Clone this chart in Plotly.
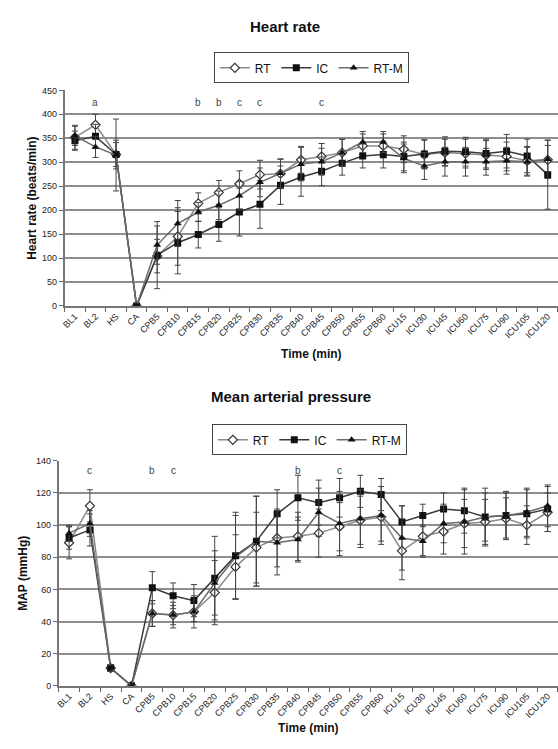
import plotly.graph_objects as go

categories = ["BL1", "BL2", "HS", "CA", "CPB5", "CPB10", "CPB15", "CPB20", "CPB25", "CPB30",
              "CPB35", "CPB40", "CPB45", "CPB50", "CPB55", "CPB60", "ICU15", "ICU30", "ICU45",
              "ICU60", "ICU75", "ICU90", "ICU105", "ICU120"]

# Heart rate (beats/min)
hr_rt = [352, 378, 316, 0, 104, 145, 214, 237, 255, 274, 276, 305, 312, 320, 334, 334, 327, 316, 320, 318, 315, 312, 303, 305]
hr_ic = [345, 354, 316, 0, 106, 132, 149, 170, 196, 212, 252, 269, 281, 298, 313, 316, 312, 317, 323, 322, 318, 323, 313, 274]
hr_rtm = [355, 332, 315, 0, 127, 172, 196, 210, 230, 258, 277, 296, 301, 320, 342, 342, 308, 292, 301, 301, 301, 303, 301, 306]
hr_rt_err = [25, 22, 25, 0, 35, 60, 22, 25, 27, 30, 30, 28, 27, 28, 25, 25, 28, 30, 28, 30, 30, 30, 30, 30]
hr_ic_err = [20, 25, 30, 0, 70, 65, 28, 35, 50, 50, 40, 40, 30, 25, 25, 28, 30, 30, 30, 30, 30, 35, 35, 72]
hr_rtm_err = [20, 22, 75, 0, 40, 48, 20, 30, 30, 30, 30, 35, 28, 28, 22, 22, 30, 28, 30, 30, 28, 28, 30, 40]
hr_letters = {"BL2": "a", "CPB15": "b", "CPB20": "b", "CPB25": "c", "CPB30": "c", "CPB45": "c"}

# Mean arterial pressure (mmHg)
map_rt = [89, 112, 11, 0, 45, 44, 46, 58, 74, 86, 92, 93, 95, 99, 103, 105, 84, 93, 96, 101, 102, 104, 100, 108]
map_ic = [92, 97, 11, 0, 61, 56, 53, 67, 81, 90, 107, 117, 114, 117, 121, 119, 102, 106, 110, 109, 105, 106, 107, 110]
map_rtm = [95, 101, 11, 0, 45, 44, 46, 64, 80, 90, 89, 91, 108, 101, 104, 106, 92, 90, 101, 102, 105, 106, 108, 112]
map_rt_err = [10, 10, 2, 0, 8, 6, 6, 20, 20, 22, 18, 15, 15, 15, 15, 15, 18, 12, 14, 15, 14, 13, 12, 12]
map_ic_err = [7, 10, 2, 0, 10, 8, 10, 26, 27, 28, 15, 14, 14, 12, 10, 10, 10, 7, 10, 14, 15, 15, 15, 14]
map_rtm_err = [5, 8, 2, 0, 8, 8, 10, 20, 26, 28, 20, 14, 15, 20, 18, 18, 20, 10, 12, 20, 18, 14, 15, 13]
map_letters = {"BL2": "c", "CPB5": "b", "CPB10": "c", "CPB40": "b", "CPB50": "c"}

W, H = 558, 749
FONT = "Liberation Sans, Arial, sans-serif"

def py(px):
    return 1 - px / H

series_style = [
    ("RT", dict(symbol="diamond", color="white", size=7, line=dict(color="#333", width=1.2)), "#8a8a8a"),
    ("IC", dict(symbol="square", color="#111", size=7, line=dict(color="#111", width=0)), "#3a3a3a"),
    ("RT-M", dict(symbol="triangle-up", color="#111", size=7, line=dict(color="#111", width=0)), "#6a6a6a"),
]

fig = go.Figure()

def add_panel(vals, errs, xa, ya, legend):
    for (name, marker, lc), v, e in zip(series_style, vals, errs):
        fig.add_trace(go.Scatter(
            x=categories, y=v, name=name, mode="lines+markers",
            xaxis=xa, yaxis=ya, legend=legend,
            line=dict(color=lc, width=1.5), marker=marker,
            error_y=dict(type="data", array=e, visible=True, color="#444", thickness=1, width=3),
        ))

add_panel([hr_rt, hr_ic, hr_rtm], [hr_rt_err, hr_ic_err, hr_rtm_err], "x", "y", "legend")
add_panel([map_rt, map_ic, map_rtm], [map_rt_err, map_ic_err, map_rtm_err], "x2", "y2", "legend2")

xcommon = dict(type="category", categoryorder="array", categoryarray=categories,
               range=[-0.5, len(categories) - 0.5],
               tickson="boundaries", ticks="outside", ticklen=4, tickcolor="#666",
               tickangle=-45, tickfont=dict(family=FONT, size=9, color="#222"),
               showline=True, linecolor="#777", linewidth=1.5, showgrid=False,
               zeroline=False, fixedrange=True)
ycommon = dict(showgrid=True, gridcolor="#8e8e8e", gridwidth=2, ticks="outside", ticklen=4,
               tickcolor="#666", showline=True, linecolor="#777", linewidth=1.5,
               tickfont=dict(family=FONT, size=9, color="#222"), zeroline=False, fixedrange=True)

legend_common = dict(orientation="h", xanchor="center", yanchor="top",
                     bordercolor="#444", borderwidth=1, font=dict(family=FONT, size=12, color="#111"),
                     itemwidth=30, tracegroupgap=0, bgcolor="white")

fig.update_layout(
    width=W, height=H, margin=dict(l=0, r=0, t=0, b=0),
    paper_bgcolor="white", plot_bgcolor="white",
    showlegend=True,
    xaxis=dict(xcommon, domain=[62 / W, 1], anchor="y",
               title=dict(text="<b>Time (min)</b>", font=dict(family=FONT, size=12, color="#111"), standoff=10)),
    yaxis=dict(ycommon, domain=[py(305), py(86.5)], range=[0, 450], dtick=50, anchor="x",
               title=dict(text="<b>Heart rate (beats/min)</b>", font=dict(family=FONT, size=12, color="#111"), standoff=3)),
    xaxis2=dict(xcommon, domain=[56 / W, 1], anchor="y2",
                title=dict(text="<b>Time (min)</b>", font=dict(family=FONT, size=12, color="#111"), standoff=5)),
    yaxis2=dict(ycommon, domain=[py(690), py(462)], range=[0, 140], dtick=20, anchor="x2",
                title=dict(text="<b>MAP (mmHg)</b>", font=dict(family=FONT, size=12, color="#111"), standoff=6)),
    legend=dict(legend_common, x=310 / W, y=py(48)),
    legend2=dict(legend_common, x=308 / W, y=py(425)),
)

annotations = [
    dict(text="<b>Heart rate</b>", x=284 / W, y=py(22), xref="paper", yref="paper",
         xanchor="center", yanchor="middle",
         showarrow=False, font=dict(family=FONT, size=15, color="#111")),
    dict(text="<b>Mean arterial pressure</b>", x=290 / W, y=py(397), xref="paper", yref="paper",
         xanchor="center", yanchor="middle",
         showarrow=False, font=dict(family=FONT, size=15, color="#111")),
]
for cat, lab in hr_letters.items():
    annotations.append(dict(text=lab, x=cat, y=425, xref="x", yref="y", showarrow=False,
                            font=dict(family=FONT, size=10, color="#444")))
for cat, lab in map_letters.items():
    annotations.append(dict(text=lab, x=cat, y=134, xref="x2", yref="y2", showarrow=False,
                            font=dict(family=FONT, size=10, color="#444")))
fig.update_layout(annotations=annotations)

fig.write_html("out.html", config={"displayModeBar": False},
               post_script="document.body.style.margin='0';document.body.style.overflow='hidden';")
